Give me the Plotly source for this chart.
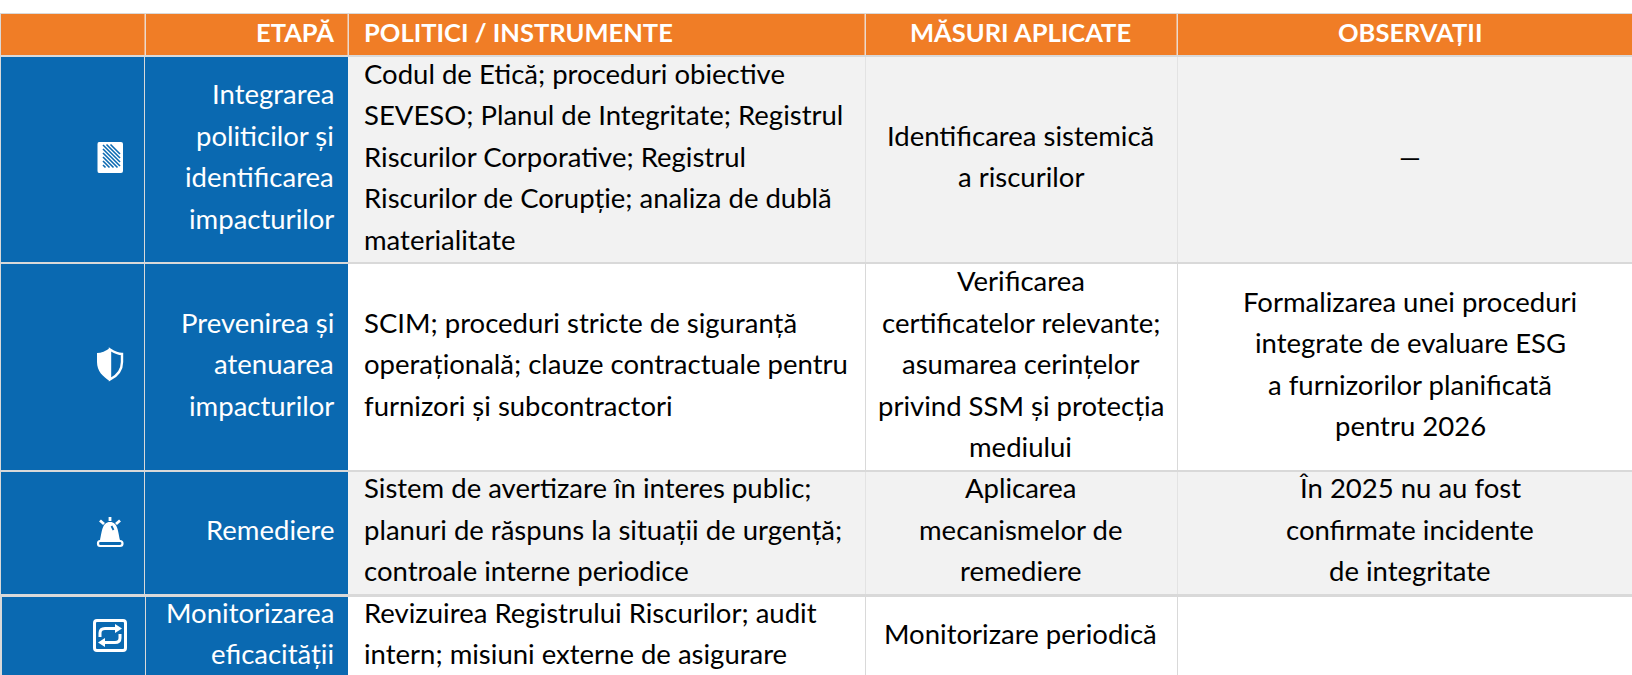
import plotly.graph_objects as go

# ---- content ----
headers = ["", "ETAPĂ", "POLITICI / INSTRUMENTE", "MĂSURI APLICATE", "OBSERVAȚII"]
stages = [
    ["Integrarea", "politicilor și", "identificarea", "impacturilor"],
    ["Prevenirea și", "atenuarea", "impacturilor"],
    ["Remediere"],
    ["Monitorizarea", "eficacității"],
]
policies = [
    ["Codul de Etică; proceduri obiective", "SEVESO; Planul de Integritate; Registrul",
     "Riscurilor Corporative; Registrul", "Riscurilor de Corupție; analiza de dublă", "materialitate"],
    ["SCIM; proceduri stricte de siguranță", "operațională; clauze contractuale pentru",
     "furnizori și subcontractori"],
    ["Sistem de avertizare în interes public;", "planuri de răspuns la situații de urgență;",
     "controale interne periodice"],
    ["Revizuirea Registrului Riscurilor; audit", "intern; misiuni externe de asigurare"],
]
measures = [
    ["Identificarea sistemică", "a riscurilor"],
    ["Verificarea", "certificatelor relevante;", "asumarea cerințelor", "privind SSM și protecția", "mediului"],
    ["Aplicarea", "mecanismelor de", "remediere"],
    ["Monitorizare periodică"],
]
notes = [
    ["—"],
    ["Formalizarea unei proceduri", "integrate de evaluare ESG", "a furnizorilor planificată", "pentru 2026"],
    ["În 2025 nu au fost", "confirmate incidente", "de integritate"],
    [],
]

# ---- layout and style ----
W, H = 1632, 675
FONT = "Lato"
FS = 27.5
FS_HEAD = 25.5
LINE = 41.5
ORANGE, BLUE, LIGHT, GRID = "#f07d26", "#0a69b1", "#f2f2f2", "#d9d9d9"
col_x = [1, 145, 348, 865, 1177, 1632]
head_y = (14, 55)
row_y = [(57, 262), (264, 470), (472, 594), (597, 675)]
row_mid = [156, 363.5, 529, 633]
head_mid = 32
row_fill = [LIGHT, "#ffffff", LIGHT, "#ffffff"]
row_vline = ["#e3e3e3", GRID, "#e3e3e3", GRID]
text_x = {"stage": 335.5, "policy": 361.5, "measure": 1020.5, "note": 1410}

shapes, ann = [], []


def rect(x0, y0, x1, y1, color):
    shapes.append(dict(type="rect", x0=x0, x1=x1, y0=y0, y1=y1, fillcolor=color,
                       line=dict(width=0), layer="below"))


def path(d, fill=None, line=None, lw=0):
    shapes.append(dict(type="path", path=d, fillcolor=fill or "rgba(0,0,0,0)",
                       line=dict(color=line or "rgba(0,0,0,0)", width=lw), layer="above"))


def text(x, y, s, anchor, color="#000000", bold=False, size=FS):
    ann.append(dict(x=x, y=y, text=f"<b>{s}</b>" if bold else s, xanchor=anchor, yanchor="middle",
                    showarrow=False, align=anchor, font=dict(family=FONT, size=size, color=color),
                    xref="x", yref="y"))


rect(0, 13, W, H, GRID)
# header cells
for i in range(5):
    rect(col_x[i] + (1 if i else 0), head_y[0], col_x[i + 1], head_y[1], ORANGE)
for i in (1, 2, 3, 4):
    rect(col_x[i] - 0.5, head_y[0], col_x[i] + 0.5, head_y[1], "#f9dcc6")

# body cells
for r, (y0, y1) in enumerate(row_y):
    rect(col_x[0] + (1 if r == 3 else 0), y0, col_x[1] - 1 + (1 if r == 3 else 0), y1, BLUE)
    rect(col_x[1] + (1 if r == 3 else 0), y0, col_x[2], y1, BLUE)
    rect(col_x[2], y0, col_x[5], y1, row_vline[r])
    for c in (2, 3, 4):
        rect(col_x[c] + (1 if c > 2 else 0), y0, col_x[c + 1], y1, row_fill[r])

# header texts
text(text_x["stage"], head_mid, headers[1], "right", "#ffffff", True, FS_HEAD)
text(text_x["policy"], head_mid, headers[2], "left", "#ffffff", True, FS_HEAD)
text(text_x["measure"], head_mid, headers[3], "center", "#ffffff", True, FS_HEAD)
text(text_x["note"], head_mid, headers[4], "center", "#ffffff", True, FS_HEAD)


def column(rows, x, anchor, color="#000000"):
    for r, lines in enumerate(rows):
        for i, s in enumerate(lines):
            text(x, row_mid[r] + (i - (len(lines) - 1) / 2) * LINE, s, anchor, color)


column(stages, text_x["stage"], "right", "#ffffff")
column(policies, text_x["policy"], "left")
column(measures, text_x["measure"], "center")
column(notes, text_x["note"], "center")

# ---- icons ----
WHITE = "#ffffff"
# document with hatching
path("M99,142 L121,142 Q123,142 123,144 L123,171 Q123,173 121,173 L99,173 Q97.5,173 97.5,171 "
     "L97.5,144 Q97.5,142 99,142 Z", WHITE)
for k in range(-2, 7):
    x0, y0 = 103, 145 + k * 4
    x1, y1 = 103 + 17, y0 + 17
    if y0 < 144.5:
        x0 += 144.5 - y0
        y0 = 144.5
    if y1 > 167.5:
        x1 -= y1 - 167.5
        y1 = 167.5
    if x1 > x0:
        path(f"M{x0},{y0} L{x1},{y1}", None, BLUE, 1.6)
# shield
path("M110,348 C106,351 101,353 97,353 L97,362 C97,371 103,377 110,381 Z", WHITE)
path("M110,349.5 C114,352 119,354 122,354 L122,362 C122,370 117,376 110,379.5 Z", None, WHITE, 2.4)
# beacon
path("M100,540 C102,532 102,522 110,522 C118,522 118,532 120,540 Z", WHITE)
path("M100,541 L120,541 Q122.5,541 122.5,543.5 Q122.5,546 120,546 L100,546 Q98,546 98,543.5 "
     "Q98,541 100,541 Z", None, WHITE, 2.2)
path("M110,517 L110,521", None, WHITE, 2.8)
path("M100,520.5 L104,524", None, WHITE, 2.8)
path("M120,520.5 L116,524", None, WHITE, 2.8)
path("M111.5,526 L113.5,530", None, BLUE, 1.8)
# repeat
path("M97,620.5 L123,620.5 Q125.5,620.5 125.5,623 L125.5,648 Q125.5,650.5 123,650.5 L97,650.5 "
     "Q94.5,650.5 94.5,648 L94.5,623 Q94.5,620.5 97,620.5 Z", None, WHITE, 3)
path("M100,637 L100,633 Q100,628.5 105,628.5 L116,628.5", None, WHITE, 3)
path("M120,634 L120,638 Q120,642.5 115,642.5 L104,642.5", None, WHITE, 3)
path("M115,624 L122,628.5 L115,633 Z", WHITE)
path("M105,638 L98,642.5 L105,647 Z", WHITE)

fig = go.Figure()
fig.update_layout(
    width=W, height=H, margin=dict(l=0, r=0, t=0, b=0),
    paper_bgcolor="#ffffff", plot_bgcolor="#ffffff", showlegend=False,
    xaxis=dict(range=[0, W], visible=False, fixedrange=True),
    yaxis=dict(range=[H, 0], visible=False, fixedrange=True),
    shapes=shapes, annotations=ann,
)
fig.write_html(
    "out.html",
    config={"displayModeBar": False},
    post_script="document.body.style.margin='0';document.documentElement.style.overflow='hidden';",
)
